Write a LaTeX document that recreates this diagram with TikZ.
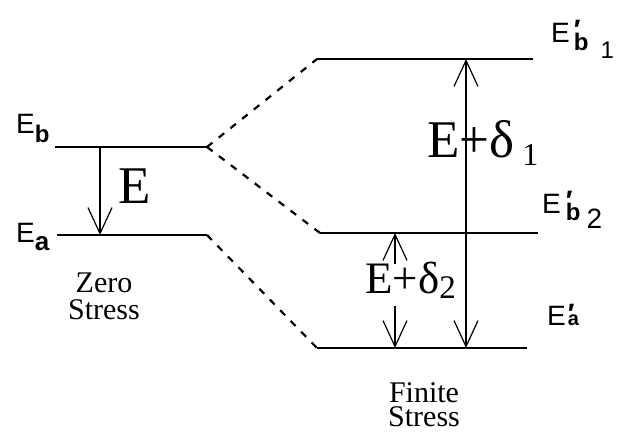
\documentclass[tikz,border=0pt]{standalone}
\usepackage{fontspec}
\setmainfont{Liberation Serif}
\newfontfamily\lvlfont{Liberation Sans}
\usetikzlibrary{arrows.meta}

\begin{document}
\begin{tikzpicture}[x=1pt,y=-1pt,
    >={Straight Barb[length=26pt,width=24pt]},
    level/.style={line width=1.3pt},
    splitline/.style={line width=2.2pt,dash pattern=on 7pt off 8pt},
    gap/.style={line width=1.2pt},
    lvllabel/.style={font=\lvlfont\fontsize{28}{28}\selectfont,inner sep=0pt,anchor=base west},
    serif/.style={inner sep=0pt}]
    \useasboundingbox (0,0) rectangle (617,447);

    % zero stress levels
    \coordinate (EbL) at (55,147);
    \coordinate (EbR) at (207,147);
    \coordinate (EaL) at (57,235);
    \coordinate (EaR) at (207,235);
    % finite stress levels
    \coordinate (Eb1L) at (317,59);
    \coordinate (Eb1R) at (533,59);
    \coordinate (Eb2L) at (320,233);
    \coordinate (Eb2R) at (538,233);
    \coordinate (Ea1L) at (317,348);
    \coordinate (Ea1R) at (527,348);
    % arrow columns
    \coordinate (d0) at (100,0);
    \coordinate (d1) at (466,0);
    \coordinate (d2) at (395,0);

    \draw[level] (EbL) -- (EbR);
    \draw[level] (EaL) -- (EaR);
    \draw[level] (Eb1L) -- (Eb1R);
    \draw[level] (Eb2L) -- (Eb2R);
    \draw[level] (Ea1L) -- (Ea1R);

    \draw[splitline] (EbR) -- (Eb1L);
    \draw[splitline] (EbR) -- (Eb2L);
    \draw[splitline] (EaR) -- (Ea1L);

    \draw[gap,->] (d0 |- EbL) -- (d0 |- EaL);
    \draw[gap,<->] (d1 |- Ea1L) -- (d1 |- Eb1L);

    \node[serif,font=\fontsize{53}{53}\selectfont,anchor=base west] (gapE) at (118,203) {E};
    \node[serif,font=\fontsize{53}{53}\selectfont,anchor=base west] (dlt1) at (427,157)
        {E+δ\hspace{8pt}\raisebox{-8pt}{\fontsize{32}{32}\selectfont 1}};
    \node[serif,font=\fontsize{45}{45}\selectfont,anchor=base west,
        text height=28pt,text depth=12pt,inner ysep=1pt] (dlt2) at (365,293)
        {E+δ\raisebox{-5pt}{\fontsize{33}{33}\selectfont 2}};
    \draw[gap,->] (dlt2.north -| d2) -- (d2 |- Eb2L);
    \draw[gap,->] (dlt2.south -| d2) -- (d2 |- Ea1L);

    \node[serif,font=\fontsize{30}{27}\selectfont,align=center,anchor=north] (zero) at (104,273) {Zero\\Stress};
    \node[serif,font=\fontsize{30}{24}\selectfont,align=center,anchor=north] (finite) at (424,382) {Finite\\Stress};

    \node[lvllabel] (Eb) at (16,133) {E\raisebox{-9pt}{\fontsize{24}{24}\selectfont\bfseries b}};
    \node[lvllabel] (Ea) at (16,242) {E\raisebox{-8pt}{\fontsize{26}{26}\selectfont\bfseries a}};
    \node[lvllabel] (Eb1) at (551,42)
        {E\hspace{4pt}\rlap{\raisebox{3pt}{\bfseries ′}}\raisebox{-8pt}{\fontsize{24}{24}\selectfont\bfseries b}\hspace{12pt}\raisebox{-16pt}{\fontsize{24}{24}\selectfont 1}};
    \node[lvllabel] (Eb2) at (542,213)
        {E\hspace{5pt}\rlap{\raisebox{3pt}{\bfseries ′}}\raisebox{-7pt}{\fontsize{24}{24}\selectfont\bfseries b}\hspace{6pt}\raisebox{-15pt}{\fontsize{28}{28}\selectfont 2}};
    \node[lvllabel] (Ea1) at (547,325)
        {E\hspace{2pt}\rlap{\raisebox{2pt}{\bfseries ′}}{\fontsize{20}{20}\selectfont\bfseries a}};
\end{tikzpicture}
\end{document}
